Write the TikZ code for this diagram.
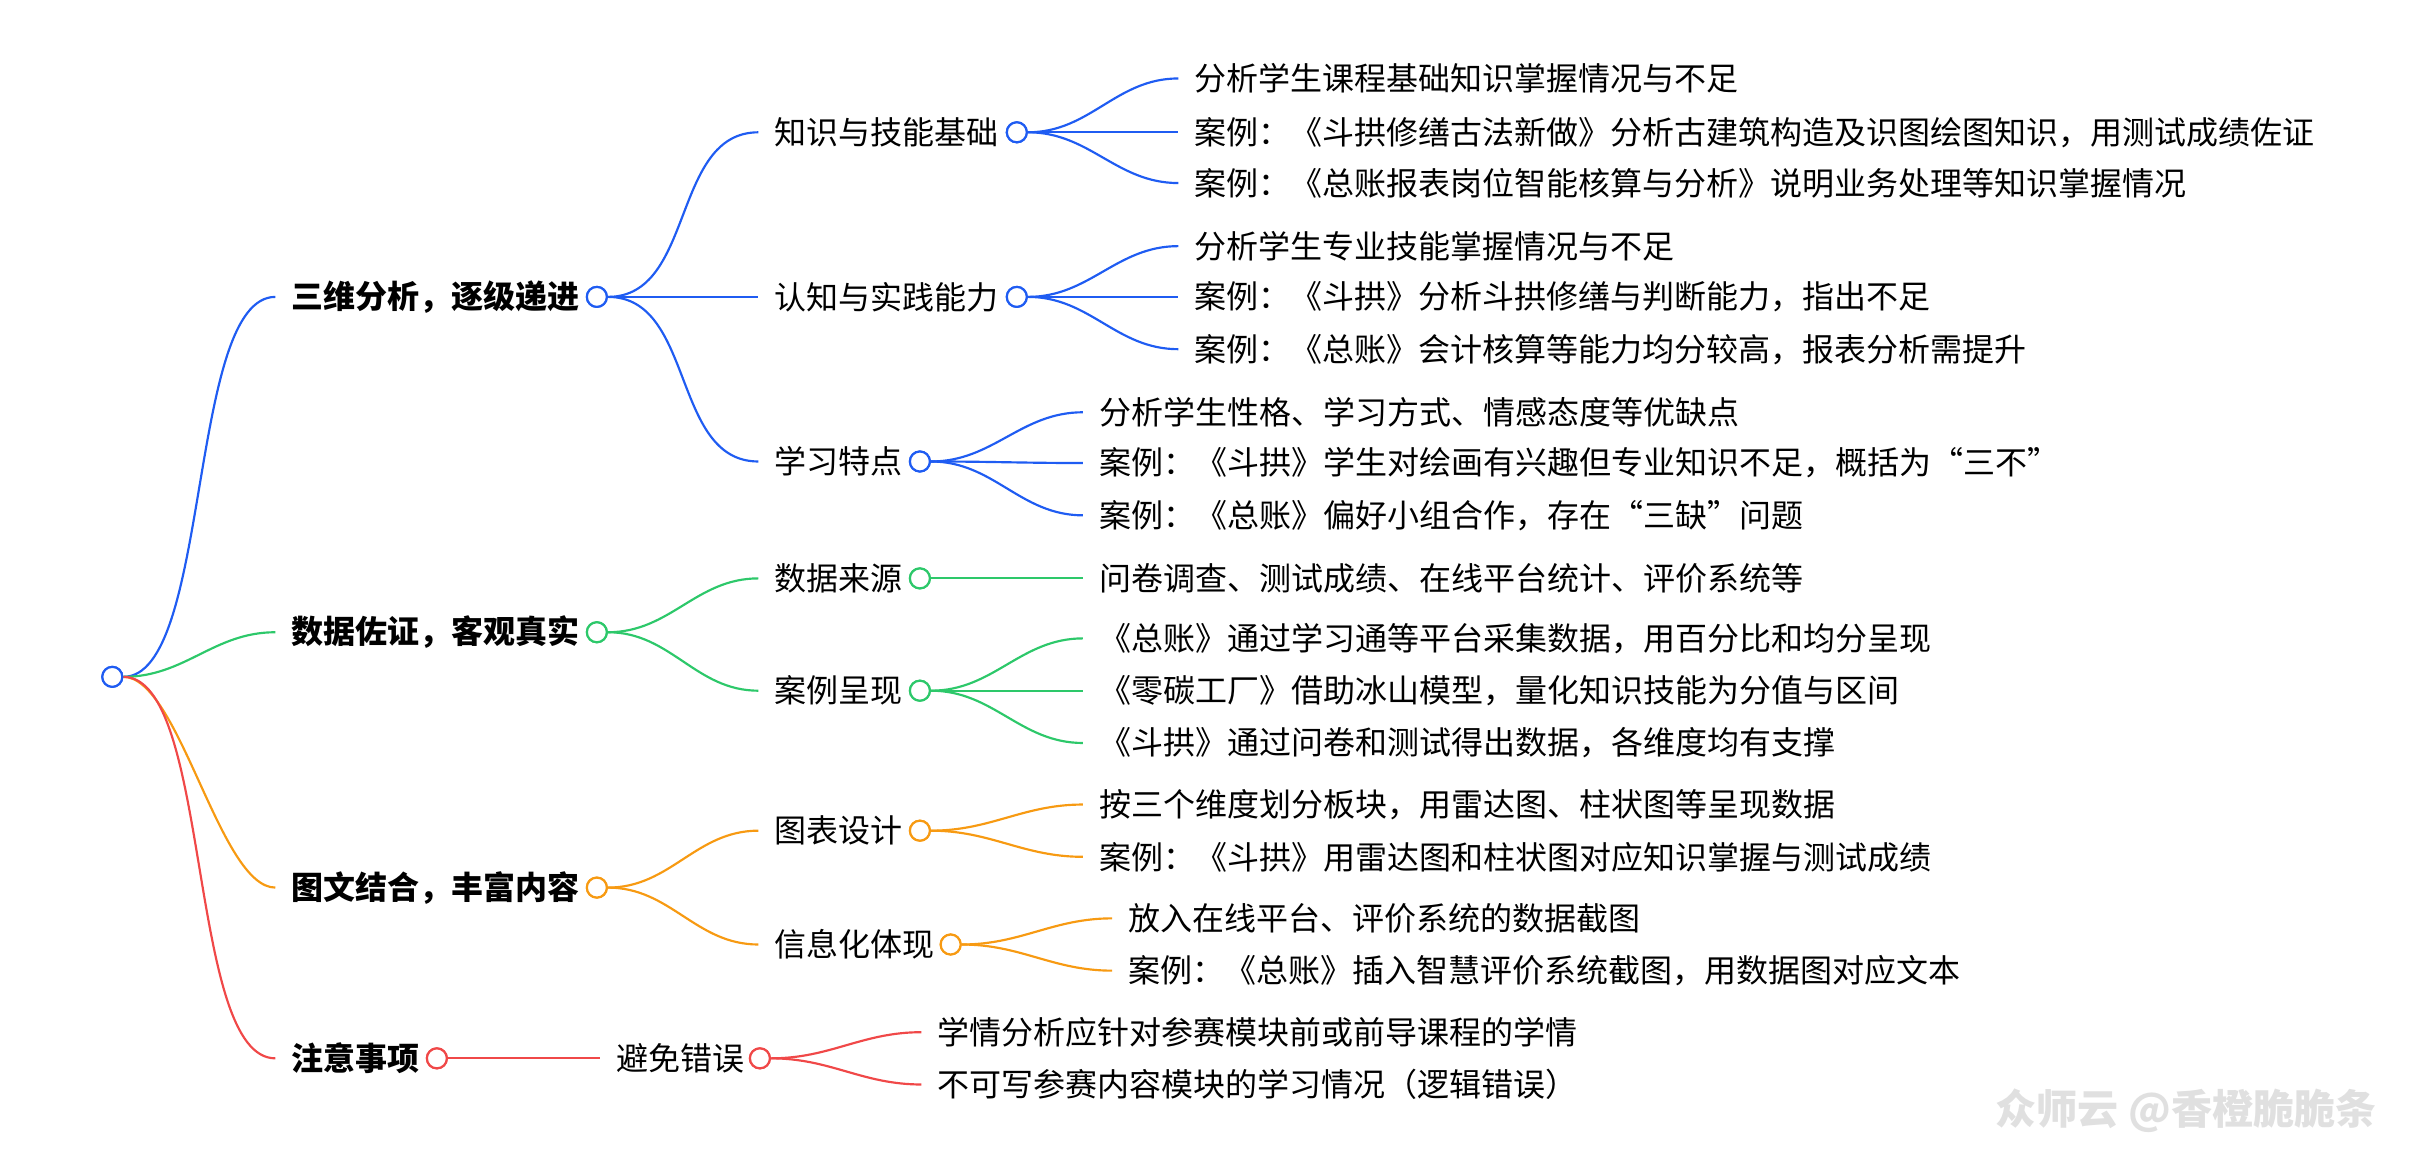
\documentclass[tikz,border=0pt]{standalone}
\usepackage{fontspec}
\setmainfont{Noto Sans CJK SC}
\begin{document}
\begin{tikzpicture}
  [x=0.05cm,y=-0.05cm,line width=2pt,
   every node/.style={font=\fontsize{29.6}{34}\selectfont,inner ysep=0pt},
   dot/.style={draw,shape=circle,fill=white,inner sep=0pt,minimum size=0.65cm},
   txt/.style={anchor=west,inner xsep=0.5cm},
   topic/.style={txt,font=\fontsize{29.6}{34}\selectfont\bfseries},
   link/.style={out=0,in=180},
   rootlink/.style={out=0,in=180,looseness=0.55}]
  \useasboundingbox (0,0) rectangle (1568,755);
  \definecolor{cb}{HTML}{1F5CF2}
  \definecolor{cg}{HTML}{2DC86A}
  \definecolor{co}{HTML}{F79A12}
  \definecolor{cr}{HTML}{F04848}

  % root
  \node[dot,draw=cb] (root) at (73,440) {};

  % level 1
  \node[topic] (t1) at (179,193) {三维分析，逐级递进};
  \node[topic] (t2) at (179,411) {数据佐证，客观真实};
  \node[topic] (t3) at (179,577) {图文结合，丰富内容};
  \node[topic] (t4) at (179,688) {注意事项};
  \node[dot,draw=cb] (c1) at (388,193) {};
  \node[dot,draw=cg] (c2) at (388,411) {};
  \node[dot,draw=co] (c3) at (388,577) {};
  \node[dot,draw=cr] (c4) at (284,688) {};

  % level 2
  \node[txt] (s1) at (493,86) {知识与技能基础};
  \node[txt] (s2) at (493,193) {认知与实践能力};
  \node[txt] (s3) at (493,300) {学习特点};
  \node[txt] (s4) at (493,376) {数据来源};
  \node[txt] (s5) at (493,449) {案例呈现};
  \node[txt] (s6) at (493,540) {图表设计};
  \node[txt] (s7) at (493,614) {信息化体现};
  \node[txt] (s8) at (390,688) {避免错误};
  \node[dot,draw=cb] (d1) at (661,86) {};
  \node[dot,draw=cb] (d2) at (661,193) {};
  \node[dot,draw=cb] (d3) at (598,300) {};
  \node[dot,draw=cg] (d4) at (598,376) {};
  \node[dot,draw=cg] (d5) at (598,449) {};
  \node[dot,draw=co] (d6) at (598,540) {};
  \node[dot,draw=co] (d7) at (618,614) {};
  \node[dot,draw=cr] (d8) at (494,688) {};

  % leaves
  \node[txt] (l11) at (766,51) {分析学生课程基础知识掌握情况与不足};
  \node[txt] (l12) at (766,86) {案例：《斗拱修缮古法新做》分析古建筑构造及识图绘图知识，用测试成绩佐证};
  \node[txt] (l13) at (766,119) {案例：《总账报表岗位智能核算与分析》说明业务处理等知识掌握情况};
  \node[txt] (l21) at (766,160) {分析学生专业技能掌握情况与不足};
  \node[txt] (l22) at (766,193) {案例：《斗拱》分析斗拱修缮与判断能力，指出不足};
  \node[txt] (l23) at (766,227) {案例：《总账》会计核算等能力均分较高，报表分析需提升};
  \node[txt] (l31) at (704,268) {分析学生性格、学习方式、情感态度等优缺点};
  \node[txt] (l32) at (704,301) {案例：《斗拱》学生对绘画有兴趣但专业知识不足，概括为“三不”};
  \node[txt] (l33) at (704,335) {案例：《总账》偏好小组合作，存在“三缺”问题};
  \node[txt] (l41) at (704,376) {问卷调查、测试成绩、在线平台统计、评价系统等};
  \node[txt] (l51) at (704,415) {《总账》通过学习通等平台采集数据，用百分比和均分呈现};
  \node[txt] (l52) at (704,449) {《零碳工厂》借助冰山模型，量化知识技能为分值与区间};
  \node[txt] (l53) at (704,483) {《斗拱》通过问卷和测试得出数据，各维度均有支撑};
  \node[txt] (l61) at (704,523) {按三个维度划分板块，用雷达图、柱状图等呈现数据};
  \node[txt] (l62) at (704,557) {案例：《斗拱》用雷达图和柱状图对应知识掌握与测试成绩};
  \node[txt] (l71) at (723,597) {放入在线平台、评价系统的数据截图};
  \node[txt] (l72) at (723,631) {案例：《总账》插入智慧评价系统截图，用数据图对应文本};
  \node[txt] (l81) at (599,671) {学情分析应针对参赛模块前或前导课程的学情};
  \node[txt] (l82) at (599,705) {不可写参赛内容模块的学习情况（逻辑错误）};

  % connectors
  \draw[cb] (root) to[rootlink] (t1.west);
  \draw[cg] (root) to[link] (t2.west);
  \draw[co] (root) to[rootlink] (t3.west);
  \draw[cr] (root) to[rootlink] (t4.west);
  \draw[cb] (c1) to[link] (s1.west);
  \draw[cb] (c1) -- (s2.west);
  \draw[cb] (c1) to[link] (s3.west);
  \draw[cg] (c2) to[link] (s4.west);
  \draw[cg] (c2) to[link] (s5.west);
  \draw[co] (c3) to[link] (s6.west);
  \draw[co] (c3) to[link] (s7.west);
  \draw[cr] (c4) -- (s8.west);
  \foreach \p/\c/\l in {d1/cb/l11,d1/cb/l12,d1/cb/l13,d2/cb/l21,d2/cb/l22,d2/cb/l23,
      d3/cb/l31,d3/cb/l32,d3/cb/l33,d4/cg/l41,d5/cg/l51,d5/cg/l52,d5/cg/l53,
      d6/co/l61,d6/co/l62,d7/co/l71,d7/co/l72,d8/cr/l81,d8/cr/l82}
    \draw[\c] (\p) to[link] (\l.west);
  \node[dot,draw=cb] at (root) {};
  \foreach \n/\c in {c1/cb,c2/cg,c3/co,c4/cr,d1/cb,d2/cb,d3/cb,d4/cg,d5/cg,d6/co,d7/co,d8/cr}
    \node[dot,draw=\c] at (\n) {};

  % watermark
  \node[anchor=east,text=black!12,font=\fontsize{38}{44}\selectfont\bfseries] (mark) at (1548,722) {众师云 @香橙脆脆条};
\end{tikzpicture}
\end{document}
